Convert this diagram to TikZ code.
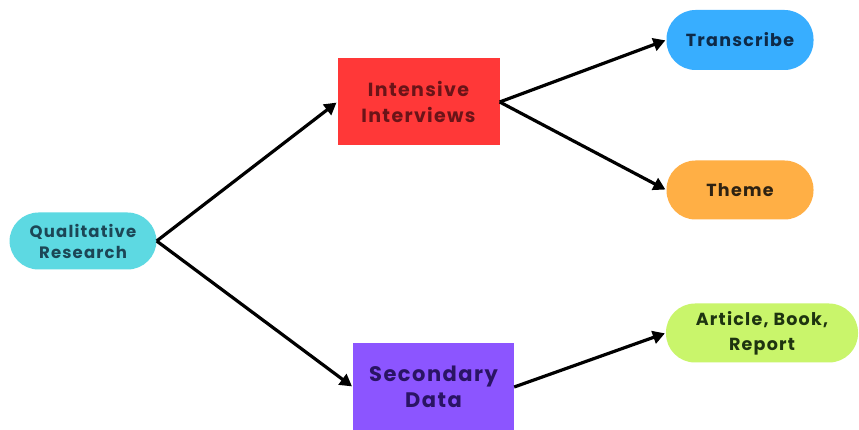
\documentclass[tikz,border=0pt]{standalone}
\usepackage{fontspec}
\setmainfont{Poppins}
\newfontfamily\diagfont[LetterSpace=7]{Poppins}
\usetikzlibrary{arrows.meta}
\definecolor{qcol}{HTML}{5DD9E2}
\definecolor{icol}{HTML}{FF3838}
\definecolor{tcol}{HTML}{38AEFF}
\definecolor{thcol}{HTML}{FFAF45}
\definecolor{scol}{HTML}{8C55FF}
\definecolor{acol}{HTML}{C9F56B}
\definecolor{qtxt}{HTML}{1C4656}
\definecolor{itxt}{HTML}{6A1418}
\definecolor{ttxt}{HTML}{0E2A48}
\definecolor{thtxt}{HTML}{2E2212}
\definecolor{stxt}{HTML}{2A1464}
\definecolor{atxt}{HTML}{1E3410}
\tikzset{
  pill/.style={rounded corners=29pt, minimum height=58pt, align=center, font=\diagfont\bfseries\fontsize{17.5}{25}\selectfont, inner sep=0pt},
  boxnode/.style={minimum width=162pt, minimum height=87pt, align=center, font=\diagfont\bfseries\fontsize{19}{26}\selectfont, inner sep=0pt},
  conn/.style={line width=3.2pt, -{Triangle[length=12pt,width=13pt]}, shorten >=1pt}
}
\begin{document}
\begin{tikzpicture}[x=1pt,y=1pt]
\useasboundingbox[fill=white] (0,0) rectangle (859,430);
\node[pill, fill=qcol, text=qtxt, minimum width=147pt, minimum height=57pt, font=\diagfont\bfseries\fontsize{16.5}{21}\selectfont] (q) at (83,189) {Qualitative\\Research};
\node[boxnode, fill=icol, text=itxt] (i) at (418.5,328) {Intensive\\Interviews};
\node[boxnode, fill=scol, text=stxt, minimum width=161pt, font=\diagfont\bfseries\fontsize{21}{26}\selectfont] (s) at (433.5,43) {Secondary\\Data};
\node[pill, fill=tcol, text=ttxt, minimum width=147pt, minimum height=60pt] (t) at (740,390) {Transcribe};
\node[pill, fill=thcol, text=thtxt, minimum width=147pt, minimum height=59pt] (th) at (740,240) {Theme};
\node[pill, fill=acol, text=atxt, minimum width=192pt, minimum height=59pt] (a) at (762,97) {Article, Book,\\Report};
\draw[conn] (q.east) -- (i.west);
\draw[conn] (q.east) -- (s.west);
\draw[conn] (i.east) -- (t.west);
\draw[conn] (i.east) -- (th.west);
\draw[conn] (s.east) -- (a.west);
\end{tikzpicture}
\end{document}
